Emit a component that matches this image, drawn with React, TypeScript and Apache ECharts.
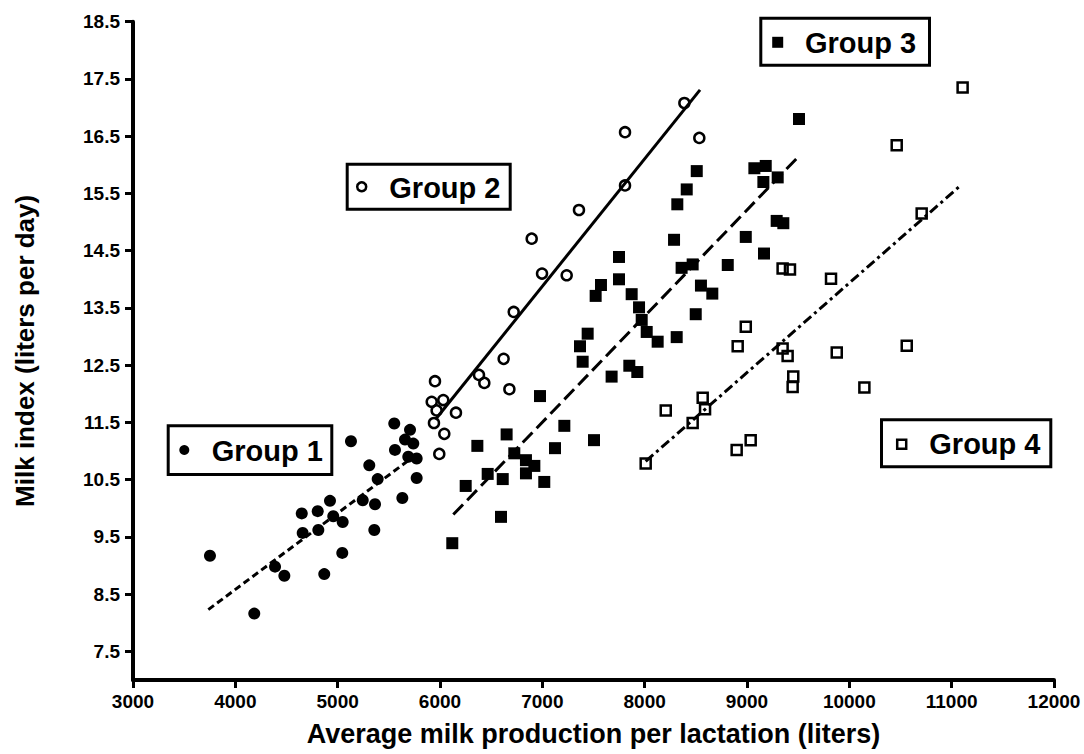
import React, { useEffect, useRef } from "react";
import * as echarts from "echarts";

const yTickValues = [7.5, 8.5, 9.5, 10.5, 11.5, 12.5, 13.5, 14.5, 15.5, 16.5, 17.5, 18.5];

const group1 = [
  [3752, 9.17], [4185, 8.16], [4388, 8.98], [4479, 8.82], [4869, 8.85], [5045, 9.22],
  [4649, 9.91], [4658, 9.57], [4805, 9.95], [4811, 9.62], [4925, 10.13], [4957, 9.86],
  [5049, 9.76], [5245, 10.14], [5358, 9.62], [5365, 10.07], [5391, 10.51], [5309, 10.75],
  [5130, 11.17], [5560, 11.02], [5553, 11.48], [5707, 11.37], [5658, 11.2], [5739, 11.13],
  [5690, 10.9], [5772, 10.87], [5772, 10.53], [5632, 10.18],
];

const group2 = [
  [5951, 12.22], [5919, 11.86], [6032, 11.89], [5967, 11.71], [6156, 11.67], [5941, 11.49],
  [6042, 11.3], [5993, 10.95], [6381, 12.33], [6433, 12.19], [6622, 12.61], [6678, 12.08],
  [6720, 13.43], [6997, 14.1], [7238, 14.07], [6896, 14.71], [7358, 15.21], [7808, 15.64],
  [7808, 16.57], [8534, 16.47], [8388, 17.08],
];

const group3 = [
  [6120, 9.39], [6596, 9.85], [6251, 10.39], [6466, 10.6], [6613, 10.51], [6365, 11.09],
  [6651, 11.29], [6726, 10.96], [6840, 10.84], [6922, 10.74], [6840, 10.61], [7019, 10.46],
  [7124, 11.05], [7215, 11.44], [7505, 11.19], [6977, 11.96], [7394, 12.56], [7368, 12.83],
  [7443, 13.05], [7677, 12.3], [7850, 12.49], [7928, 12.38], [7521, 13.71], [7573, 13.9],
  [7749, 14.0], [7749, 14.39], [7873, 13.74], [7945, 13.51], [7971, 13.29], [8020, 13.08],
  [8127, 12.91], [8313, 12.99], [8287, 14.69], [8319, 15.31], [8411, 15.57], [8509, 15.89],
  [8361, 14.2], [8469, 14.26], [8550, 13.89], [8661, 13.75], [8499, 13.39], [8812, 14.25],
  [8988, 14.74], [9166, 14.45], [9290, 15.02], [9355, 14.98], [9072, 15.94], [9183, 15.98],
  [9160, 15.7], [9300, 15.78], [9508, 16.8],
];

const group4 = [
  [8010, 10.78], [8206, 11.71], [8469, 11.49], [8567, 11.93], [8590, 11.73], [8899, 11.02],
  [9036, 11.19], [8909, 12.83], [8988, 13.17], [9348, 12.79], [9397, 12.66], [9452, 12.3],
  [9446, 12.12], [9348, 14.19], [9420, 14.17], [9821, 14.01], [9877, 12.72], [10147, 12.11],
  [10561, 12.84], [10707, 15.15], [10463, 16.34], [11107, 17.35],
];

const fit1 = [[3736, 8.23], [5740, 10.9]];
const fit2 = [[5955, 11.55], [8541, 17.31]];
const fit3 = [[6130, 9.89], [9501, 16.14]];
const fit4 = [[8010, 10.82], [11082, 15.63]];

const FONT = '"Liberation Sans", Arial, sans-serif';

export default function App() {
  const ref = useRef<HTMLDivElement>(null);
  useEffect(() => {
    if (!ref.current) return;
    const chart = echarts.init(ref.current, null, { renderer: "svg" });
    const legendBox = (
      x0: number, y0: number, x1: number, y1: number,
      mx: number, my: number, tx: number, label: string, marker: any
    ) => [
      {
        type: "rect",
        z: 100,
        shape: { x: x0 + 1.5, y: y0 + 1.5, width: x1 - x0 - 3, height: y1 - y0 - 3 },
        style: { fill: "#fff", stroke: "#000", lineWidth: 3 },
      },
      marker(mx, my),
      {
        type: "text",
        z: 101,
        x: tx,
        y: (y0 + y1) / 2 + 1,
        style: {
          text: label,
          fontFamily: FONT,
          fontWeight: "bold",
          fontSize: 29,
          fill: "#000",
          verticalAlign: "middle",
          align: "left",
        },
      },
    ];
    const filledCircle = (x: number, y: number) => ({ type: "circle", z: 101, shape: { cx: x, cy: y, r: 5 }, style: { fill: "#000" } });
    const openCircle = (x: number, y: number) => ({ type: "circle", z: 101, shape: { cx: x, cy: y, r: 4.5 }, style: { fill: "none", stroke: "#000", lineWidth: 2.5 } });
    const filledSquare = (x: number, y: number) => ({ type: "rect", z: 101, shape: { x: x - 5.5, y: y - 5.5, width: 11, height: 11 }, style: { fill: "#000" } });
    const openSquare = (x: number, y: number) => ({ type: "rect", z: 101, shape: { x: x - 4.5, y: y - 4.5, width: 9, height: 9 }, style: { fill: "none", stroke: "#000", lineWidth: 2.5 } });

    const fitLine = (name: string, data: number[][], type: any) => ({
      type: "line",
      name,
      data,
      symbol: "none",
      silent: true,
      z: 3,
      lineStyle: { color: "#000", width: 3, type, cap: "butt", opacity: 1 },
    });

    chart.setOption({
      animation: false,
      backgroundColor: "#fff",
      grid: { left: 133, right: 30, top: 21.7, bottom: 74, containLabel: false, outerBoundsMode: "none" },
      xAxis: {
        type: "value",
        min: 3000,
        max: 12000,
        interval: 1000,
        name: "Average milk production per lactation (liters)",
        nameLocation: "middle",
        nameGap: 40,
        nameTextStyle: { fontFamily: FONT, fontWeight: "bold", fontSize: 27, color: "#000" },
        axisLine: { lineStyle: { color: "#000", width: 4 } },
        axisTick: { length: 8, lineStyle: { color: "#000", width: 3 } },
        axisLabel: {
          margin: 12, fontFamily: FONT, fontWeight: "bold", fontSize: 19, color: "#000",
          formatter: (v: number) => String(v),
        },
        splitLine: { show: false },
      },
      yAxis: {
        type: "value",
        min: 7,
        max: 18.5,
        name: "Milk index (liters per day)",
        nameLocation: "middle",
        nameGap: 95,
        nameRotate: 90,
        nameTextStyle: { fontFamily: FONT, fontWeight: "bold", fontSize: 26, color: "#000" },
        axisLine: { show: true, lineStyle: { color: "#000", width: 4 } },
        axisTick: { show: true, length: 8, customValues: yTickValues, lineStyle: { color: "#000", width: 3 } },
        axisLabel: {
          margin: 13,
          customValues: yTickValues,
          fontFamily: FONT,
          fontWeight: "bold",
          fontSize: 19,
          color: "#000",
          formatter: (v: number) => v.toFixed(1),
        },
        splitLine: { show: false },
      },
      series: [
        {
          type: "scatter", name: "Group 1", data: group1, symbol: "circle", symbolSize: 12, z: 4,
          itemStyle: { color: "#000", opacity: 1 },
        },
        {
          type: "scatter", name: "Group 2", data: group2, symbol: "circle", symbolSize: 10, z: 4,
          itemStyle: { color: "rgba(0,0,0,0)", borderColor: "#000", borderWidth: 2.5, opacity: 1 },
        },
        {
          type: "scatter", name: "Group 3", data: group3, symbol: "rect", symbolSize: 12, z: 4,
          itemStyle: { color: "#000", opacity: 1 },
        },
        {
          type: "scatter", name: "Group 4", data: group4, symbol: "rect", symbolSize: 10, z: 4,
          itemStyle: { color: "rgba(0,0,0,0)", borderColor: "#000", borderWidth: 2.5, opacity: 1 },
        },
        fitLine("Group 1 fit", fit1, [7, 4]),
        fitLine("Group 2 fit", fit2, "solid"),
        fitLine("Group 3 fit", fit3, [14, 6]),
        fitLine("Group 4 fit", fit4, [10, 4, 3, 4]),
      ],
      graphic: [
        ...legendBox(166.7, 424.3, 333.3, 476, 184.3, 450, 211.7, "Group 1", filledCircle),
        ...legendBox(345.7, 162.7, 511.7, 210.7, 361.7, 186.7, 389.3, "Group 2", openCircle),
        ...legendBox(759.3, 16.7, 931, 66.7, 777.7, 42.3, 805, "Group 3", filledSquare),
        ...legendBox(880, 418.3, 1052.3, 468.3, 901.7, 444.3, 929.3, "Group 4", openSquare),
      ],
    });
    return () => chart.dispose();
  }, []);
  return (
    <div
      ref={ref}
      style={{ position: "fixed", left: 0, top: 0, width: 1084, height: 754, background: "#fff" }}
    />
  );
}
